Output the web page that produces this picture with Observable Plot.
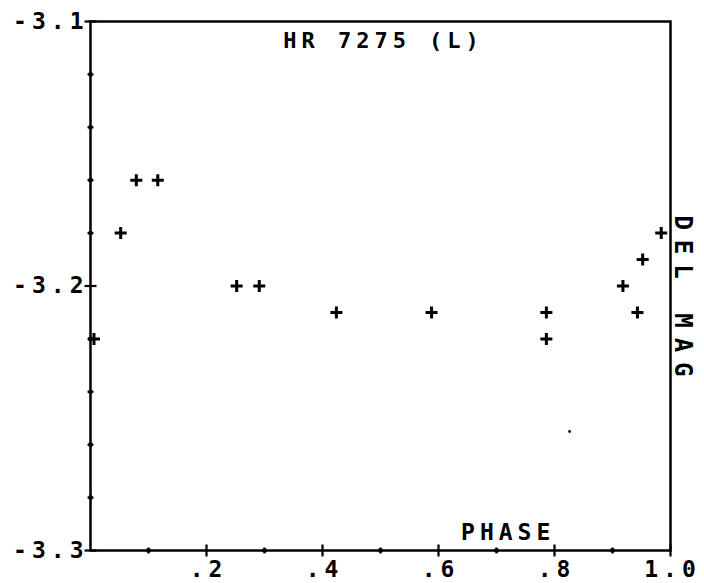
<!DOCTYPE html>
<html>
<head>
<meta charset="utf-8">
<script src="https://cdn.jsdelivr.net/npm/d3@7"></script>
<script src="https://cdn.jsdelivr.net/npm/@observablehq/plot@0.6"></script>
<style>
  html, body { margin: 0; padding: 0; background: #fff; }
  svg text { letter-spacing: 5px; font-weight: bold; }
</style>
</head>
<body>
<div id="chart"></div>
<script>
// Data
const phase  = [0.006, 0.052, 0.079, 0.116, 0.252, 0.291, 0.424, 0.588, 0.786, 0.786, 0.918, 0.943, 0.952, 0.984];
const delMag = [-3.22, -3.18, -3.16, -3.16, -3.20, -3.20, -3.21, -3.21, -3.21, -3.22, -3.20, -3.21, -3.19, -3.18];
const strayPhase = [0.826];
const strayMag = [-3.255];

const xDomain = [0, 1];
const yDomain = [-3.3, -3.1];
const xMajor = [0.2, 0.4, 0.6, 0.8, 1.0];
const xMajorLabels = [".2", ".4", ".6", ".8", "1.0"];
const xMinor = [0.1, 0.3, 0.5, 0.7, 0.9];
const yMajor = [-3.1, -3.2, -3.3];
const yMajorLabels = ["-3.1", "-3.2", "-3.3"];
const yMinor = [-3.28, -3.26, -3.24, -3.22, -3.18, -3.16, -3.14, -3.12];
const title = "HR 7275 (L)";
const xTitle = "PHASE";
const yTitle = "DEL MAG";

const points = phase.map((p, i) => ({phase: p, mag: delMag[i]}));
const stray = strayPhase.map((p, i) => ({phase: p, mag: strayMag[i]}));

const vbar = {draw(c) { c.moveTo(0, -6); c.lineTo(0, 6); }};
const hbar = {draw(c) { c.moveTo(-6, 0); c.lineTo(6, 0); }};
const mbar = {draw(c) { c.moveTo(-3, 0); c.lineTo(3, 0); }};
const mvbar = {draw(c) { c.moveTo(0, -3); c.lineTo(0, 3); }};
const cross = {draw(c) { c.moveTo(-6, 0); c.lineTo(6, 0); c.moveTo(0, -6); c.lineTo(0, 6); }};

const font = "DejaVu Sans Mono";

const chart = Plot.plot({
  width: 704,
  height: 583,
  marginLeft: 90,
  marginRight: 34,
  marginTop: 21,
  marginBottom: 33,
  x: {domain: xDomain, axis: null},
  y: {domain: yDomain, axis: null},
  style: {fontFamily: font, fontSize: "23px", color: "black", background: "white"},
  marks: [
    Plot.frame({stroke: "black", strokeWidth: 2.5}),
    // minor ticks
    Plot.dot(xMinor, {x: d => d, y: () => yDomain[0], r: 2.4, fill: "black", stroke: null}),
    Plot.dot(xMinor, {x: d => d, y: () => yDomain[0], symbol: mvbar, stroke: "black", strokeWidth: 2}),
    Plot.dot(yMinor, {x: () => xDomain[0], y: d => d, r: 2.4, fill: "black", stroke: null}),
    Plot.dot(yMinor, {x: () => xDomain[0], y: d => d, symbol: mbar, stroke: "black", strokeWidth: 2}),
    // major ticks crossing axes
    Plot.dot(xMajor, {x: d => d, y: () => yDomain[0], symbol: vbar, stroke: "black", strokeWidth: 2.2}),
    Plot.dot(yMajor, {x: () => xDomain[0], y: d => d, symbol: hbar, stroke: "black", strokeWidth: 2.2}),
    // tick labels
    Plot.text(xMajor, {x: d => d, y: () => yDomain[0], text: (d, i) => xMajorLabels[i], dy: 19, dx: 2, fontSize: 23, fill: "black"}),
    Plot.text(yMajor, {x: () => xDomain[0], y: d => d, text: (d, i) => yMajorLabels[i], textAnchor: "end", dx: -2, fontSize: 23, fill: "black"}),
    // titles
    Plot.text([title], {frameAnchor: "top", lineAnchor: "middle", text: d => d, dy: 19, dx: 3, fontSize: 22, fill: "black"}),
    Plot.text([xTitle], {x: () => 0.715, frameAnchor: "bottom", lineAnchor: "middle", text: d => d, dy: -18, dx: 3, fontSize: 23, fill: "black"}),
    Plot.text([yTitle], {frameAnchor: "right", textAnchor: "middle", lineAnchor: "middle", y: () => -3.2, text: d => d, rotate: 90, dx: 12, dy: 15, fontSize: 24, fill: "black"}),
    // data
    Plot.dot(points, {x: "phase", y: "mag", symbol: cross, stroke: "black", strokeWidth: 3}),
    Plot.dot(stray, {x: "phase", y: "mag", r: 1.4, fill: "black", stroke: null})
  ]
});

d3.select(chart).selectAll("text").filter(function() { return this.textContent === yTitle; })
  .style("letter-spacing", "10px");

document.getElementById("chart").appendChild(chart);
</script>
</body>
</html>
